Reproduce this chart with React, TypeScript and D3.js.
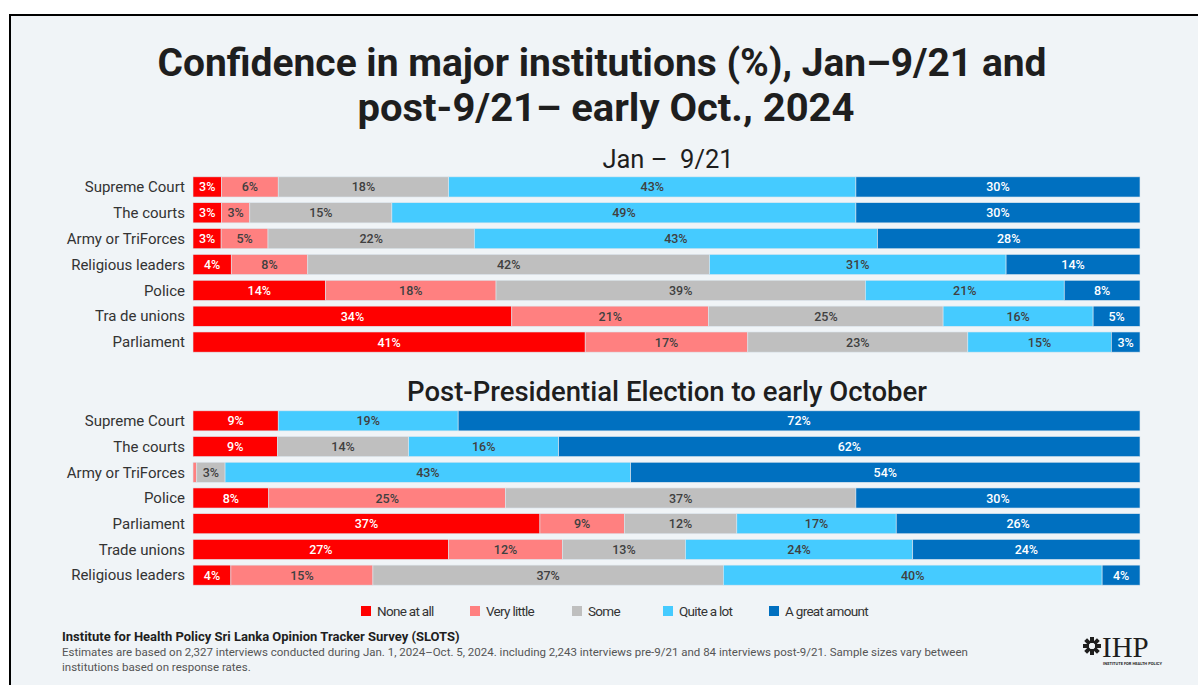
import React from 'react';
import * as d3 from 'd3';

// Response levels and colours
const levels = ['None at all', 'Very little', 'Some', 'Quite a lot', 'A great amount'];
const levelColors = ['#ff0000', '#ff8080', '#bfbfbf', '#45cbff', '#0070c0'];
const labelColors = ['#ffffff', '#404040', '#404040', '#404040', '#ffffff'];

// Jan – 9/21
const preCategories = ['Supreme Court', 'The courts', 'Army or TriForces', 'Religious leaders', 'Police', 'Tra de unions', 'Parliament'];
const preNone = [3, 3, 3, 4, 14, 34, 41];
const preLittle = [6, 3, 5, 8, 18, 21, 17];
const preSome = [18, 15, 22, 42, 39, 25, 23];
const preQuite = [43, 49, 43, 31, 21, 16, 15];
const preGreat = [30, 30, 28, 14, 8, 5, 3];

// Post-presidential election
const postCategories = ['Supreme Court', 'The courts', 'Army or TriForces', 'Police ', 'Parliament', 'Trade unions', 'Religious leaders'];
const postNone = [9, 9, 0, 8, 37, 27, 4];
const postLittle = [0, 0, 0.4, 25, 9, 12, 15];
const postSome = [0, 14, 3, 37, 12, 13, 37];
const postQuite = [19, 16, 43, 0, 17, 24, 40];
const postGreat = [72, 62, 54, 30, 26, 24, 4];

type Row = { cat: string; [k: string]: number | string };

const buildRows = (cats: string[], series: number[][]): Row[] =>
  cats.map((cat, i) => {
    const r: Row = { cat };
    levels.forEach((l, j) => (r[l] = series[j][i]));
    return r;
  });

const preRows = buildRows(preCategories, [preNone, preLittle, preSome, preQuite, preGreat]);
const postRows = buildRows(postCategories, [postNone, postLittle, postSome, postQuite, postGreat]);

const W = 1198;
const H = 685;
const FONT = 'Roboto, "Noto Sans", sans-serif';

const x = d3.scaleLinear().domain([0, 1]).range([193, 1140]);
const stacker = d3
  .stack<Row>()
  .keys(levels)
  .value((d, k) => d[k] as number)
  .offset(d3.stackOffsetExpand);

const Panel: React.FC<{ rows: Row[]; range: [number, number] }> = ({ rows, range }) => {
  const y = d3
    .scaleBand()
    .domain(rows.map((r) => r.cat))
    .range(range)
    .paddingInner(0.22)
    .paddingOuter(0.11);
  const stacked = stacker(rows);
  return (
    <g>
      {rows.map((r) => (
        <text
          key={r.cat}
          x={185}
          y={(y(r.cat) ?? 0) + y.bandwidth() / 2}
          dy="0.35em"
          textAnchor="end"
          fontSize={15}
          fill="#333"
        >
          {r.cat}
        </text>
      ))}
      {stacked.map((s, j) => (
        <g key={s.key}>
          {s.map((d) => {
            const x0 = x(d[0]);
            const x1 = x(d[1]);
            const v = d.data[s.key] as number;
            if (x1 - x0 <= 0) return null;
            const yy = y(d.data.cat) ?? 0;
            return (
              <g key={d.data.cat}>
                <rect
                  x={x0}
                  y={yy}
                  width={x1 - x0}
                  height={y.bandwidth()}
                  fill={levelColors[j]}
                  stroke="#dde6ee"
                  strokeWidth={0.6}
                />
                {v >= 1 && (
                  <text
                    x={(x0 + x1) / 2}
                    y={yy + y.bandwidth() / 2}
                    dy="0.36em"
                    textAnchor="middle"
                    fontSize={12.5}
                    fontWeight={500}
                    fill={labelColors[j]}
                  >
                    {`${Math.round(v)}%`}
                  </text>
                )}
              </g>
            );
          })}
        </g>
      ))}
    </g>
  );
};

const legendX = [361, 470, 572, 663, 769];

const App: React.FC = () => (
  <svg
    width={W}
    height={H}
    style={{ position: 'absolute', left: 0, top: 0, fontFamily: FONT }}
  >
    <rect x={0} y={0} width={W} height={H} fill="#ffffff" />
    <rect x={10} y={15} width={W + 10} height={H + 10} fill="#f0f4f7" stroke="#000" strokeWidth={2} />

    <text x={602} y={76} textAnchor="middle" fontSize={39} fontWeight={700} fill="#1e1e1e" textLength={889} lengthAdjust="spacingAndGlyphs">
      Confidence in major institutions (%), Jan–9/21 and
    </text>
    <text x={606} y={121} textAnchor="middle" fontSize={39} fontWeight={700} fill="#1e1e1e" textLength={497} lengthAdjust="spacingAndGlyphs">
      post-9/21– early Oct., 2024
    </text>

    <text x={668} y={168} textAnchor="middle" fontSize={25.5} fill="#1e1e1e" xmlSpace="preserve">
      Jan –  9/21
    </text>
    <Panel rows={preRows} range={[174, 355]} />

    <text x={667} y={401} textAnchor="middle" fontSize={27.5} fontWeight={500} fill="#1e1e1e">
      Post-Presidential Election to early October
    </text>
    <Panel rows={postRows} range={[408, 588]} />

    {levels.map((l, i) => (
      <g key={l}>
        <rect x={legendX[i]} y={606} width={10} height={10} fill={levelColors[i]} />
        <text x={legendX[i] + 16} y={611} dy="0.35em" fontSize={13.5} letterSpacing={-0.7} fill="#333">
          {l}
        </text>
      </g>
    ))}

    <text x={62} y={641} fontSize={13} fontWeight={700} fill="#1e1e1e">
      Institute for Health Policy Sri Lanka Opinion Tracker Survey (SLOTS)
    </text>
    <text x={62} y={656} fontSize={11.5} fill="#555">
      Estimates are based on 2,327 interviews conducted during Jan. 1, 2024–Oct. 5, 2024. including 2,243 interviews pre-9/21 and 84 interviews post-9/21. Sample sizes vary between
    </text>
    <text x={62} y={671} fontSize={11.5} fill="#555">
      institutions based on response rates.
    </text>

    {/* IHP logo */}
    <g transform="translate(1092,646)">
      {d3.range(8).map((i) => (
        <rect
          key={i}
          x={-2}
          y={-9}
          width={4}
          height={6}
          fill="#1e1e1e"
          transform={`rotate(${i * 45})`}
        />
      ))}
      <circle r={3} fill="#f0f4f7" />
    </g>
    <text x={1102} y={657} fontSize={29} fontFamily='"Liberation Serif", serif' fill="#1e1e1e">
      IHP
    </text>
    <text x={1103} y={665} fontSize={4} fontWeight={700} fill="#1e1e1e">
      INSTITUTE FOR HEALTH POLICY
    </text>
  </svg>
);

export default App;
